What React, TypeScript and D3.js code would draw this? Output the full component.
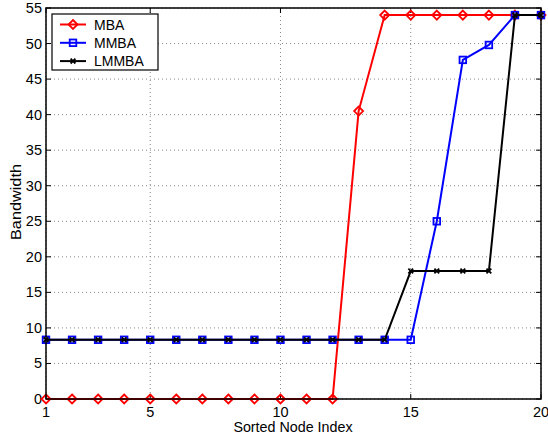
import React from "react";
import * as d3 from "d3";

const xValues = [1, 2, 3, 4, 5, 6, 7, 8, 9, 10, 11, 12, 13, 14, 15, 16, 17, 18, 19, 20];
const mba = [0, 0, 0, 0, 0, 0, 0, 0, 0, 0, 0, 0, 40.5, 54, 54, 54, 54, 54, 54, 54];
const mmba = [8.33, 8.33, 8.33, 8.33, 8.33, 8.33, 8.33, 8.33, 8.33, 8.33, 8.33, 8.33, 8.33, 8.33, 8.33, 25, 47.7, 49.8, 54, 54];
const lmmba = [8.33, 8.33, 8.33, 8.33, 8.33, 8.33, 8.33, 8.33, 8.33, 8.33, 8.33, 8.33, 8.33, 8.33, 18, 18, 18, 18, 54, 54];
const xTicks = [1, 5, 10, 15, 20];
const yTicks = [0, 5, 10, 15, 20, 25, 30, 35, 40, 45, 50, 55];
const seriesNames = ["MBA", "MMBA", "LMMBA"];

const W = 548, H = 438;
const L = 46, R = 541, T = 8, B = 399;
const font = "'Liberation Sans', Arial, Helvetica, sans-serif";

function Marker({ kind, x, y, color }: { kind: string; x: number; y: number; color: string }) {
  if (kind === "diamond") {
    const s = 4.5;
    return <path d={`M${x},${y - s}L${x + s},${y}L${x},${y + s}L${x - s},${y}Z`} fill="none" stroke={color} strokeWidth={1.8} />;
  }
  if (kind === "square") {
    const s = 3.3;
    return <rect x={x - s} y={y - s} width={2 * s} height={2 * s} fill="none" stroke={color} strokeWidth={1.8} />;
  }
  const s = 2.4;
  return <path d={`M${x - s},${y - s}L${x + s},${y + s}M${x - s},${y + s}L${x + s},${y - s}`} stroke={color} strokeWidth={1.8} />;
}

export default function App() {
  const x = d3.scaleLinear().domain([1, 20]).range([L, R]);
  const y = d3.scaleLinear().domain([0, 55]).range([B, T]);
  const line = d3.line<number>().x((_, i) => x(xValues[i])).y((d) => y(d));
  const series = [
    { name: seriesNames[0], data: mba, color: "#ff0000", kind: "diamond" },
    { name: seriesNames[1], data: mmba, color: "#0000ff", kind: "square" },
    { name: seriesNames[2], data: lmmba, color: "#000000", kind: "x" },
  ];
  return (
    <svg width={W} height={H} style={{ position: "absolute", left: 0, top: 0 }}>
      <rect width={W} height={H} fill="#fff" />
      {/* grid */}
      {xTicks.map((t) => (
        <line key={"gx" + t} x1={x(t)} x2={x(t)} y1={T} y2={B} stroke="#888" strokeWidth={1} strokeDasharray="1,3" />
      ))}
      {yTicks.map((t) => (
        <line key={"gy" + t} x1={L} x2={R} y1={y(t)} y2={y(t)} stroke="#888" strokeWidth={1} strokeDasharray="1,3" />
      ))}
      {/* tick marks */}
      {xTicks.map((t) => (
        <g key={"tx" + t}>
          <line x1={x(t)} x2={x(t)} y1={B} y2={B - 5} stroke="#000" />
          <line x1={x(t)} x2={x(t)} y1={T} y2={T + 5} stroke="#000" />
          <text x={x(t)} y={B + 18} textAnchor="middle" fontFamily={font} fontSize={14.5} fill="#000">{t}</text>
        </g>
      ))}
      {yTicks.map((t) => (
        <g key={"ty" + t}>
          <line x1={L} x2={L + 5} y1={y(t)} y2={y(t)} stroke="#000" />
          <line x1={R} x2={R - 5} y1={y(t)} y2={y(t)} stroke="#000" />
          <text x={L - 4} y={y(t) + 5} textAnchor="end" fontFamily={font} fontSize={14.5} fill="#000">{t}</text>
        </g>
      ))}
      {/* series */}
      {series.map((s) => (
        <g key={s.name}>
          <path d={line(s.data) || ""} fill="none" stroke={s.color} strokeWidth={2} />
          {s.data.map((v, i) => (
            <Marker key={i} kind={s.kind} x={x(xValues[i])} y={y(v)} color={s.color} />
          ))}
        </g>
      ))}
      {/* axes box */}
      <rect x={L} y={T} width={R - L} height={B - T} fill="none" stroke="#000" strokeWidth={1.5} />
      {/* labels */}
      <text x={293} y={432} textAnchor="middle" fontFamily={font} fontSize={14.3} fill="#000">Sorted Node Index</text>
      <text transform={`translate(21,202) rotate(-90)`} textAnchor="middle" fontFamily={font} fontSize={14.5} fill="#000" textLength={76} lengthAdjust="spacingAndGlyphs">Bandwidth</text>
      {/* legend */}
      <g>
        <rect x={52} y={14} width={106} height={56} fill="#fff" stroke="#000" strokeWidth={1.2} />
        {series.map((s, i) => {
          const ly = 24.5 + i * 18.3;
          return (
            <g key={"lg" + s.name}>
              <line x1={60} x2={86} y1={ly} y2={ly} stroke={s.color} strokeWidth={2} />
              <Marker kind={s.kind} x={73} y={ly} color={s.color} />
              <text x={94} y={ly + 5} fontFamily={font} fontSize={14} fill="#000">{s.name}</text>
            </g>
          );
        })}
      </g>
    </svg>
  );
}
